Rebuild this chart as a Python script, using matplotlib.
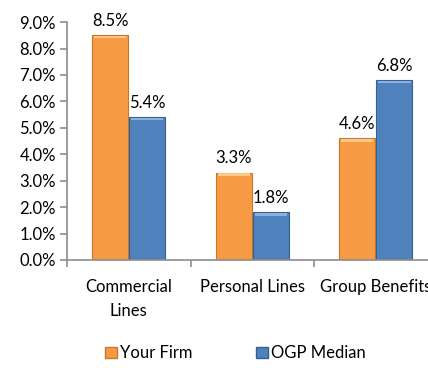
import matplotlib

matplotlib.use("Agg")
import matplotlib.pyplot as plt
import numpy as np
from matplotlib.patches import Patch
from matplotlib.ticker import FuncFormatter, MultipleLocator

plt.rcParams["font.family"] = ["Lato", "DejaVu Sans"]

categories = ["Commercial\nLines", "Personal Lines", "Group Benefits"]
your_firm = [8.5, 3.3, 4.6]
ogp_median = [5.4, 1.8, 6.8]
series_names = ["Your Firm", "OGP Median"]

ORANGE, ORANGE_EDGE, ORANGE_HI = "#F79A44", "#C9762A", "#FBC98A"
BLUE, BLUE_EDGE, BLUE_HI = "#4F81BD", "#35608F", "#8CB0DE"
AXIS = "#8C8C8C"
FS = 12

fig = plt.figure(figsize=(4.28, 3.68), dpi=100)
ax = fig.add_axes([0.1565, 0.2935, 0.866, 0.6465])

x = np.arange(len(categories))
w = 0.29
for vals, off, face, edge, hi in [
    (your_firm, -w / 2 - 0.005, ORANGE, ORANGE_EDGE, ORANGE_HI),
    (ogp_median, w / 2 + 0.005, BLUE, BLUE_EDGE, BLUE_HI),
]:
    vals = np.asarray(vals)
    ax.bar(x + off, vals, w, color=face, edgecolor=edge, lw=0.8, zorder=2)
    # bevel highlight along the top of each bar
    ax.bar(x + off, np.full_like(vals, 0.1), w * 0.9, bottom=vals - 0.12,
           color=hi, lw=0, zorder=3)
    for xi, v in zip(x + off, vals):
        ax.text(xi, v + 0.25, f"{v:.1f}%", ha="center", va="bottom",
                fontsize=FS, color="black")

ax.set_xlim(-0.5, 2.5)
ax.set_ylim(0, 9)
ax.yaxis.set_major_locator(MultipleLocator(1))
ax.yaxis.set_major_formatter(FuncFormatter(lambda v, _: f"{v:.1f}%"))
ax.set_xticks(x)
ax.set_xticklabels(categories, fontsize=FS, linespacing=1.6)
ax.set_xticks([-0.5, 0.5, 1.5, 2.5], minor=True)
ax.tick_params(axis="x", which="major", length=0, pad=14)
ax.tick_params(axis="x", which="minor", length=5, color=AXIS, width=1.2)
ax.tick_params(axis="y", length=5, color=AXIS, width=1.2, labelsize=FS, pad=3)

for side in ("top", "right"):
    ax.spines[side].set_visible(False)
for side in ("left", "bottom"):
    ax.spines[side].set_color(AXIS)
    ax.spines[side].set_linewidth(1.2)

handles = [Patch(facecolor=ORANGE, edgecolor=ORANGE_EDGE),
           Patch(facecolor=BLUE, edgecolor=BLUE_EDGE)]
fig.legend(handles, series_names, loc="center", bbox_to_anchor=(0.55, 0.04),
           ncol=2, frameon=False, fontsize=FS, handlelength=0.7,
           handleheight=0.7, handletextpad=0.2, columnspacing=3.8)

fig.savefig("out.png", dpi=100)
